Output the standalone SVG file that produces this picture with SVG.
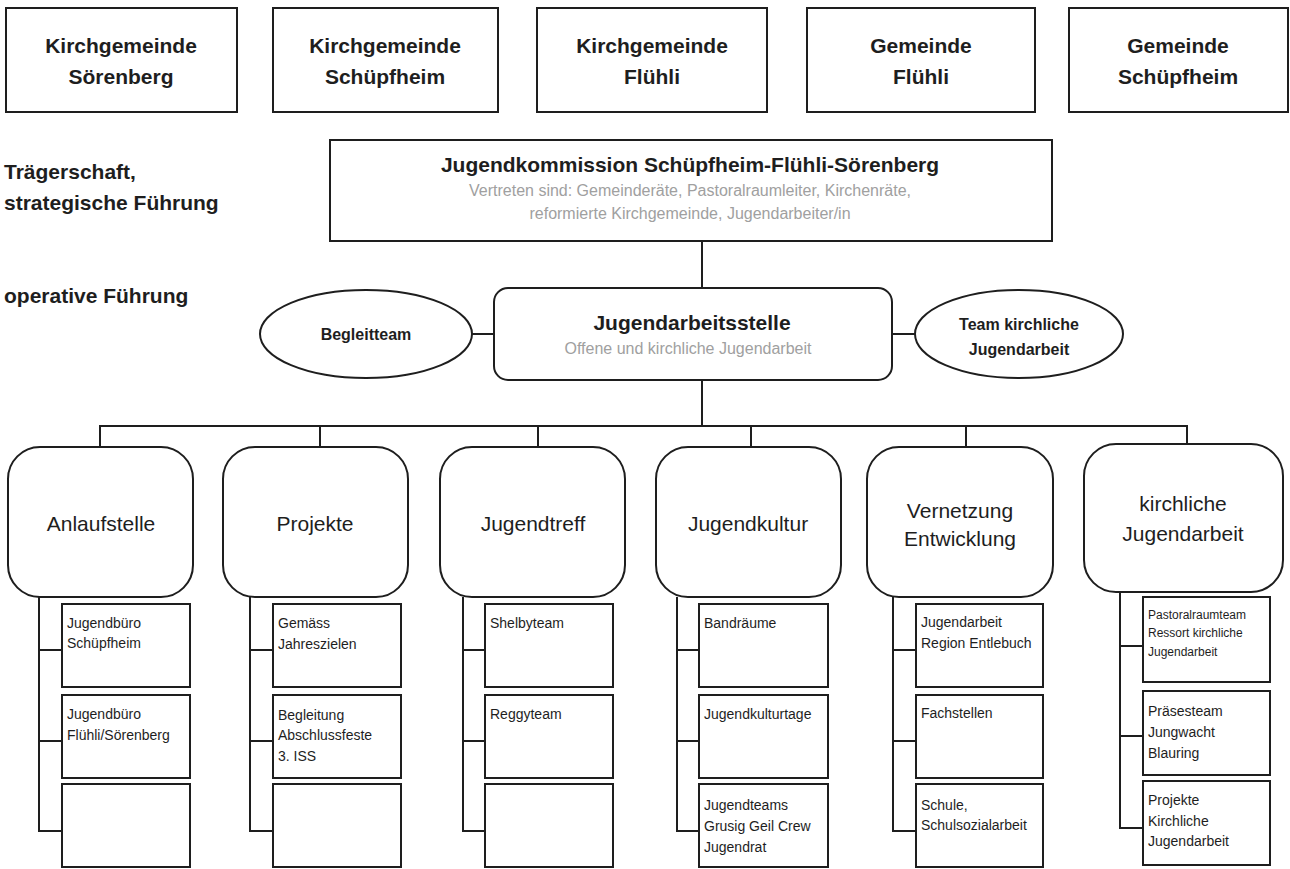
<svg xmlns="http://www.w3.org/2000/svg" width="1290" height="869" viewBox="0 0 1290 869">
<style>
.box{fill:#fff;stroke:#1e1e1e;stroke-width:2}
.ln{fill:none;stroke:#1e1e1e;stroke-width:2}
text{font-family:"Liberation Sans",Arial,sans-serif;fill:#1e1e1e}
.hb{font-size:21px;font-weight:bold}
.lb{font-size:21px;font-weight:bold}
.el{font-size:16px;font-weight:bold}
.gr{font-size:16px;fill:#a0a0a0}
.cat{font-size:21px}
.it{font-size:14px}
.sm{font-size:12px}
.c{text-anchor:middle}
</style>
<rect width="1290" height="869" fill="#fff"/>
<g id="connectors">
<path class="ln" d="M702 241V288"/>
<path class="ln" d="M472 334H494"/>
<path class="ln" d="M892 334H915"/>
<path class="ln" d="M702 380V426"/>
<path class="ln" d="M100 447V426H1187V444"/>
<path class="ln" d="M320 426V447M538 426V447M751 426V447M966 426V447"/>
<path class="ln" d="M39 597V831H62M39 650H62M39 741H62"/>
<path class="ln" d="M250 597V831H273M250 650H273M250 741H273"/>
<path class="ln" d="M463 597V831H485M463 650H485M463 741H485"/>
<path class="ln" d="M677 597V831H699M677 650H699M677 741H699"/>
<path class="ln" d="M893 597V831H916M893 650H916M893 741H916"/>
<path class="ln" d="M1120 592V828H1143M1120 646H1143M1120 736H1143"/>
</g>
<g id="kg-soerenberg"><rect class="box" x="6" y="8" width="231" height="104"/><text class="hb c" x="121" y="53">Kirchgemeinde</text><text class="hb c" x="121" y="84">Sörenberg</text></g>
<g id="kg-schuepfheim"><rect class="box" x="273" y="8" width="225" height="104"/><text class="hb c" x="385" y="53">Kirchgemeinde</text><text class="hb c" x="385" y="84">Schüpfheim</text></g>
<g id="kg-fluehli"><rect class="box" x="537" y="8" width="230" height="104"/><text class="hb c" x="652" y="53">Kirchgemeinde</text><text class="hb c" x="652" y="84">Flühli</text></g>
<g id="g-fluehli"><rect class="box" x="807" y="8" width="228" height="104"/><text class="hb c" x="921" y="53">Gemeinde</text><text class="hb c" x="921" y="84">Flühli</text></g>
<g id="g-schuepfheim"><rect class="box" x="1069" y="8" width="219" height="104"/><text class="hb c" x="1178" y="53">Gemeinde</text><text class="hb c" x="1178" y="84">Schüpfheim</text></g>
<g id="label-traeger"><text class="lb" x="4" y="179">Trägerschaft,</text><text class="lb" x="4" y="210">strategische Führung</text></g>
<g id="label-operativ"><text class="lb" x="4" y="303">operative Führung</text></g>
<g id="jugendkommission"><rect class="box" x="330" y="140" width="722" height="101"/><text class="hb c" x="690" y="172">Jugendkommission Schüpfheim-Flühli-Sörenberg</text><text class="gr c" x="690" y="196">Vertreten sind: Gemeinderäte, Pastoralraumleiter, Kirchenräte,</text><text class="gr c" x="690" y="219">reformierte Kirchgemeinde, Jugendarbeiter/in</text></g>
<g id="begleitteam"><ellipse class="box" cx="366" cy="334" rx="106" ry="44"/><text class="el c" x="366" y="340">Begleitteam</text></g>
<g id="jugendarbeitsstelle"><rect class="box" x="494" y="288" width="398" height="92" rx="14"/><text class="hb c" x="692" y="330">Jugendarbeitsstelle</text><text class="gr c" x="688" y="354">Offene und kirchliche Jugendarbeit</text></g>
<g id="team-kirchlich"><ellipse class="box" cx="1019" cy="334" rx="104" ry="44"/><text class="el c" x="1019" y="330">Team kirchliche</text><text class="el c" x="1019" y="355">Jugendarbeit</text></g>
<g id="anlaufstelle"><rect class="box" x="8" y="447" width="185" height="150" rx="32"/><text class="cat c" x="101" y="531">Anlaufstelle</text></g>
<g id="projekte"><rect class="box" x="223" y="447" width="185" height="150" rx="32"/><text class="cat c" x="315" y="531">Projekte</text></g>
<g id="jugendtreff"><rect class="box" x="440" y="447" width="185" height="150" rx="32"/><text class="cat c" x="533" y="531">Jugendtreff</text></g>
<g id="jugendkultur"><rect class="box" x="656" y="447" width="185" height="150" rx="32"/><text class="cat c" x="748" y="531">Jugendkultur</text></g>
<g id="vernetzung"><rect class="box" x="867" y="447" width="186" height="150" rx="32"/><text class="cat c" x="960" y="518">Vernetzung</text><text class="cat c" x="960" y="546">Entwicklung</text></g>
<g id="kirchliche-ja"><rect class="box" x="1084" y="444" width="199" height="148" rx="32"/><text class="cat c" x="1183" y="511">kirchliche</text><text class="cat c" x="1183" y="541">Jugendarbeit</text></g>
<g id="a1"><rect class="box" x="62" y="604" width="128" height="83"/><text class="it" x="67" y="628">Jugendbüro</text><text class="it" x="67" y="648">Schüpfheim</text></g>
<g id="a2"><rect class="box" x="62" y="695" width="128" height="83"/><text class="it" x="67" y="719">Jugendbüro</text><text class="it" x="67" y="740">Flühli/Sörenberg</text></g>
<g id="a3"><rect class="box" x="62" y="784" width="128" height="83"/></g>
<g id="p1"><rect class="box" x="273" y="604" width="128" height="83"/><text class="it" x="278" y="628">Gemäss</text><text class="it" x="278" y="649">Jahreszielen</text></g>
<g id="p2"><rect class="box" x="273" y="695" width="128" height="83"/><text class="it" x="278" y="720">Begleitung</text><text class="it" x="278" y="740">Abschlussfeste</text><text class="it" x="278" y="761">3. ISS</text></g>
<g id="p3"><rect class="box" x="273" y="784" width="128" height="83"/></g>
<g id="t1"><rect class="box" x="485" y="604" width="128" height="83"/><text class="it" x="490" y="628">Shelbyteam</text></g>
<g id="t2"><rect class="box" x="485" y="695" width="128" height="83"/><text class="it" x="490" y="719">Reggyteam</text></g>
<g id="t3"><rect class="box" x="485" y="784" width="128" height="83"/></g>
<g id="k1"><rect class="box" x="699" y="604" width="129" height="83"/><text class="it" x="704" y="628">Bandräume</text></g>
<g id="k2"><rect class="box" x="699" y="695" width="129" height="83"/><text class="it" x="704" y="719">Jugendkulturtage</text></g>
<g id="k3"><rect class="box" x="699" y="784" width="129" height="83"/><text class="it" x="704" y="810">Jugendteams</text><text class="it" x="704" y="831">Grusig Geil Crew</text><text class="it" x="704" y="852">Jugendrat</text></g>
<g id="v1"><rect class="box" x="916" y="604" width="127" height="83"/><text class="it" x="921" y="627">Jugendarbeit</text><text class="it" x="921" y="648">Region Entlebuch</text></g>
<g id="v2"><rect class="box" x="916" y="695" width="127" height="83"/><text class="it" x="921" y="718">Fachstellen</text></g>
<g id="v3"><rect class="box" x="916" y="784" width="127" height="83"/><text class="it" x="921" y="810">Schule,</text><text class="it" x="921" y="830">Schulsozialarbeit</text></g>
<g id="j1"><rect class="box" x="1143" y="597" width="127" height="85"/><text class="sm" x="1148" y="619">Pastoralraumteam</text><text class="sm" x="1148" y="637">Ressort kirchliche</text><text class="sm" x="1148" y="656">Jugendarbeit</text></g>
<g id="j2"><rect class="box" x="1143" y="691" width="127" height="84"/><text class="it" x="1148" y="716">Präsesteam</text><text class="it" x="1148" y="737">Jungwacht</text><text class="it" x="1148" y="758">Blauring</text></g>
<g id="j3"><rect class="box" x="1143" y="781" width="127" height="84"/><text class="it" x="1148" y="805">Projekte</text><text class="it" x="1148" y="826">Kirchliche</text><text class="it" x="1148" y="846">Jugendarbeit</text></g>
</svg>
